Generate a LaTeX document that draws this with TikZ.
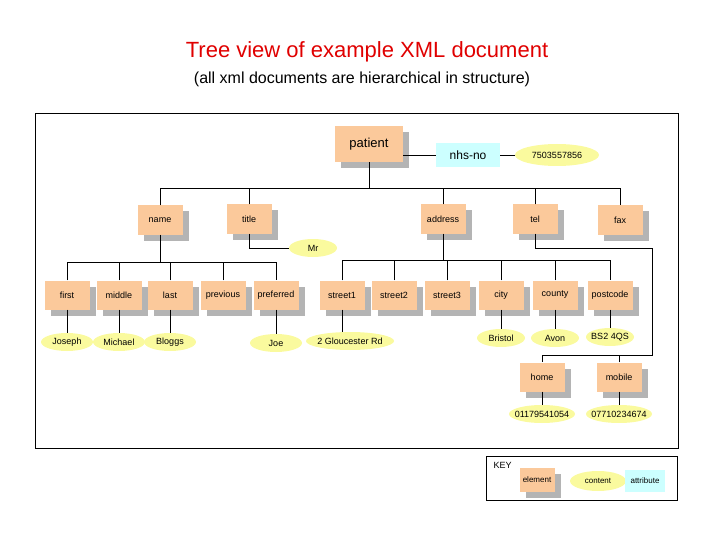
\documentclass[tikz,border=0pt]{standalone}
\usepackage{fontspec}
\setmainfont{Liberation Sans}
\usetikzlibrary{shadows,shapes.geometric}
\definecolor{elemc}{HTML}{FBC99B}
\definecolor{contc}{HTML}{FAFA9E}
\definecolor{attc}{HTML}{CCFFFF}
\definecolor{shc}{HTML}{B4B4B4}
\definecolor{titc}{HTML}{E00000}
\begin{document}
\begin{tikzpicture}[x=1pt,y=-1pt,
  elem/.style={fill=elemc,inner sep=0,minimum width=45,minimum height=29,font=\fontsize{9}{10}\selectfont,
    general shadow={fill=shc,shadow xshift=6pt,shadow yshift=-6pt}},
  cont/.style={ellipse,fill=contc,inner xsep=-5pt,inner ysep=0pt,minimum width=52,minimum height=18,font=\fontsize{9}{10}\selectfont},
  att/.style={fill=attc,inner sep=0,font=\fontsize{9}{10}\selectfont},
  ln/.style={draw,line width=0.9pt}]
\useasboundingbox (0,0) rectangle (720,540);
\node[text=titc,font=\fontsize{22}{25}\selectfont] (t) at (367,52) {Tree view of example XML document};
\node[font=\fontsize{16}{18}\selectfont] (st) at (362,79) {(all xml documents are hierarchical in structure)};
\draw[line width=0.9pt] (35,113) rectangle (678,448);
\draw[line width=0.9pt] (486,456) rectangle (677,500);
\node[anchor=west,font=\fontsize{9}{10}\selectfont] (key) at (490,465) {KEY};
% elements
\node[elem,minimum width=68,minimum height=36,font=\fontsize{13}{15}\selectfont] (patient) at (369,144) {patient};
\node[att,minimum width=64,minimum height=24,font=\fontsize{12}{14}\selectfont] (nhs) at (468,155) {nhs-no};
\node[cont,minimum width=84,minimum height=22] (nhsv) at (557,155) {7503557856};
\node[elem] (name) at (160,220) {name};
\node[elem] (title) at (249,219) {title};
\node[elem] (address) at (443,219) {address};
\node[elem] (tel) at (535,219) {tel};
\node[elem] (fax) at (620,220) {fax};
\node[cont,minimum width=48] (mr) at (313,248) {Mr};
\foreach \n/\t/\x in {first/first/67,middle/middle/119,last/last/170,previous/previous/223,preferred/preferred/276,
  street1/street1/342,street2/street2/394,street3/street3/447,city/city/501,county/county/555,postcode/postcode/610}
  \node[elem] (\n) at (\x,295) {\t};
\node[cont] (joseph) at (67,342) {Joseph};
\node[cont] (michael) at (119,342) {Michael};
\node[cont] (bloggs) at (170,342) {Bloggs};
\node[cont] (joe) at (276,343) {Joe};
\node[cont,minimum width=88] (glou) at (350,341) {2 Gloucester Rd};
\node[cont,minimum width=48] (bristol) at (501,338) {Bristol};
\node[cont,minimum width=48] (avon) at (555,338) {Avon};
\node[cont,minimum width=48] (bs) at (610,337) {BS2 4QS};
\node[elem] (home) at (542,377) {home};
\node[elem] (mobile) at (619,377) {mobile};
\node[cont,minimum width=66] (hv) at (542,414) {01179541054};
\node[cont,minimum width=66] (mv) at (619,414) {07710234674};
% key
\node[elem,minimum width=35,minimum height=24,font=\fontsize{8}{9}\selectfont] (ke) at (537,480) {element};
\node[cont,minimum width=56,minimum height=20,font=\fontsize{8}{9}\selectfont] (kc) at (598,481) {content};
\node[att,minimum width=40,minimum height=22,font=\fontsize{8}{9}\selectfont] (ka) at (645,481) {attribute};
% connectors
\coordinate (b1) at (0,188);
\coordinate (b2) at (0,262);
\coordinate (b3) at (0,260);
\coordinate (b4) at (0,355);
\coordinate (tr) at (652,248);
\draw[ln] (patient.east |- nhs.west) -- (nhs.west);
\draw[ln] (nhs.east) -- (nhsv.west);
\draw[ln] (patient.south) -- (patient.south |- b1);
\draw[ln] (name.north) |- (fax.north |- b1) -- (fax.north);
\foreach \n in {title,address,tel} \draw[ln] (\n.north) -- (\n.north |- b1);
\draw[ln] (title.south) |- (mr.west);
\draw[ln] (name.south) -- (name.south |- b2);
\draw[ln] (first.north) |- (preferred.north |- b2) -- (preferred.north);
\foreach \n in {middle,last,previous} \draw[ln] (\n.north) -- (\n.north |- b2);
\draw[ln] (address.south) -- (address.south |- b3);
\draw[ln] (street1.north) |- (postcode.north |- b3) -- (postcode.north);
\foreach \n in {street2,street3,city,county} \draw[ln] (\n.north) -- (\n.north |- b3);
\foreach \a/\b in {first/joseph,middle/michael,last/bloggs,preferred/joe,street1/glou,city/bristol,county/avon,postcode/bs,home/hv,mobile/mv}
  \draw[ln] (\a.south) -- (\a.south |- \b.north);
\draw[ln] (tel.south) |- (tr) |- (home.north |- b4) -- (home.north);
\draw[ln] (mobile.north) -- (mobile.north |- b4);
\end{tikzpicture}
\end{document}
